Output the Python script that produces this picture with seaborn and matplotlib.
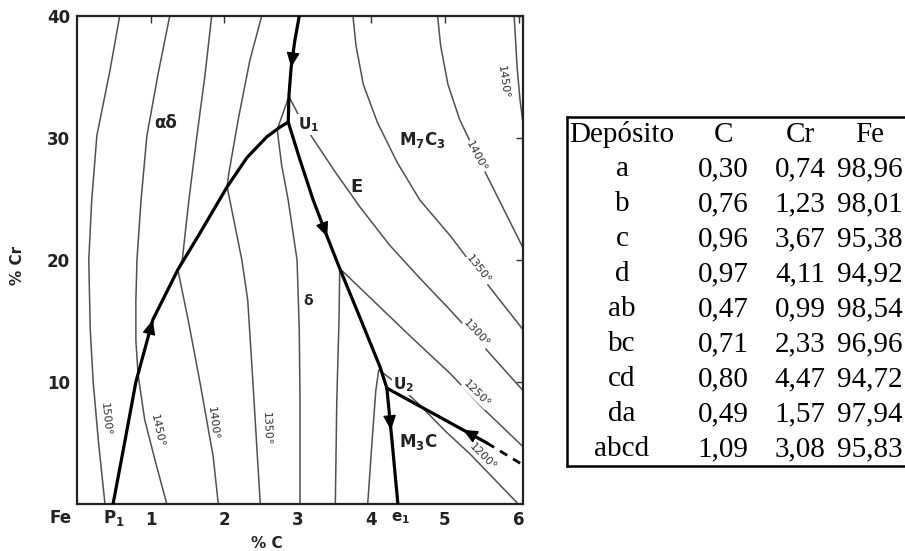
import matplotlib
matplotlib.use("Agg")
import matplotlib.pyplot as plt
import seaborn as sns

# ---------------- data : liquidus projection Fe-Cr-C (%C, %Cr) ----------------
# thin isotherms
iso1500_c = [0.58, 0.45, 0.27, 0.20, 0.16, 0.18, 0.22, 0.29, 0.38]
iso1500_cr = [40.0, 35.6, 30.2, 24.9, 20.0, 14.3, 10.0, 5.2, 0.0]
iso1450_c = [1.26, 1.10, 0.95, 0.87, 0.815, 0.80, 0.80, 0.83, 0.92, 1.06, 1.22]
iso1450_cr = [40.0, 35.2, 30.2, 24.9, 20.0, 16.7, 13.4, 10.6, 6.9, 3.6, 0.0]
iso1400_c = [1.83, 1.74, 1.63, 1.52, 1.43, 1.37, 1.51, 1.67, 1.85, 1.92]
iso1400_cr = [40.0, 35.2, 30.2, 24.9, 20.0, 19.2, 15.1, 10.0, 3.9, 0.0]
iso1350a_c = [2.51, 2.35, 2.19, 2.06, 2.04, 2.13, 2.24, 2.32, 2.39, 2.49]
iso1350a_cr = [40.0, 36.4, 31.5, 27.0, 26.0, 23.3, 20.0, 16.7, 10.0, 0.0]
iso1300_c = [3.03, 3.03, 3.02, 2.99, 2.87, 2.78, 2.72, 2.88, 3.00, 3.19, 3.51,
             3.85, 4.25, 4.66, 5.07, 5.54, 6.06]
iso1300_cr = [0.0, 8.5, 14.3, 20.0, 24.9, 27.8, 30.7, 33.4, 32.0, 30.1, 27.2,
              24.3, 21.2, 18.5, 15.9, 12.8, 9.3]
iso1250_c = [3.51, 3.53, 3.56, 3.57, 4.02, 4.52, 5.07, 5.54, 6.06]
iso1250_cr = [0.0, 8.5, 15.1, 19.3, 16.7, 13.8, 10.7, 7.7, 4.7]
iso1200_c = [3.95, 4.01, 4.06, 4.10, 4.32, 4.66, 5.00, 5.34, 5.98]
iso1200_cr = [0.0, 5.2, 9.3, 11.0, 10.0, 8.1, 6.0, 4.1, 0.1]
iso1350b_c = [3.75, 3.79, 3.89, 4.08, 4.35, 4.66, 5.07, 5.41, 5.72, 6.06]
iso1350b_cr = [40.0, 37.6, 34.4, 31.3, 28.0, 24.9, 22.0, 19.3, 16.9, 14.3]
iso1400b_c = [4.90, 4.94, 5.04, 5.20, 5.43, 5.72, 6.06]
iso1400b_cr = [40.0, 37.6, 34.4, 31.5, 28.6, 25.1, 21.0]
iso1450b_c = [5.94, 5.98, 6.02, 6.06]
iso1450b_cr = [40.0, 35.8, 33.1, 31.2]

# thick monovariant lines
p1_u1_c = [0.49, 0.64, 0.80, 1.03, 1.37, 1.67, 2.04, 2.31, 2.58, 2.76, 2.87]
p1_u1_cr = [0.0, 4.8, 10.0, 15.1, 19.2, 22.2, 26.0, 28.4, 30.1, 30.9, 31.3]
top_u1_c = [3.02, 2.96, 2.91, 2.88, 2.87]
top_u1_cr = [40.0, 38.0, 35.8, 33.5, 31.3]
u1_u2_c = [2.87, 3.03, 3.21, 3.40, 3.57, 3.85, 4.12, 4.21]
u1_u2_cr = [31.3, 28.2, 24.9, 21.9, 19.3, 15.2, 11.2, 9.5]
u2_e1_c = [4.21, 4.28, 4.36]
u2_e1_cr = [9.5, 5.2, 0.0]
u2_right_c = [4.21, 5.57]
u2_right_cr = [9.5, 5.0]
u2_dash_c = [5.57, 6.06]
u2_dash_cr = [5.0, 3.2]

x_ticks = [1, 2, 3, 4, 5, 6]
x_tick_labels = ["1", "2", "3", "4", "5", "6"]
y_ticks = [10, 20, 30, 40]
y_tick_labels = ["10", "20", "30", "40"]

# table
depositos = ["a", "b", "c", "d", "ab", "bc", "cd", "da", "abcd"]
c_vals = [0.30, 0.76, 0.96, 0.97, 0.47, 0.71, 0.80, 0.49, 1.09]
cr_vals = [0.74, 1.23, 3.67, 4.11, 0.99, 2.33, 4.47, 1.57, 3.08]
fe_vals = [98.96, 98.01, 95.38, 94.92, 98.54, 96.96, 94.72, 97.94, 95.83]
headers = ["Depósito", "C", "Cr", "Fe"]

# ---------------- style ----------------
sns.set_theme(style="white")
plt.rcParams["font.family"] = ["DejaVu Sans"]

W, H = 905, 551
fig = plt.figure(figsize=(W / 100, H / 100), dpi=100)
fig.patch.set_facecolor("white")
ax = fig.add_axes([77 / W, 47 / H, 446 / W, 488 / H])
ax.set_facecolor("white")

THIN = dict(color="#505050", linewidth=1.1, zorder=2)
THICK = dict(color="black", linewidth=2.3, zorder=4)


def draw(c, cr, **kw):
    sns.lineplot(x=c, y=cr, ax=ax, sort=False, estimator=None, legend=False, **kw)


for c, cr in [(iso1500_c, iso1500_cr), (iso1450_c, iso1450_cr), (iso1400_c, iso1400_cr),
              (iso1350a_c, iso1350a_cr), (iso1300_c, iso1300_cr), (iso1250_c, iso1250_cr),
              (iso1200_c, iso1200_cr), (iso1350b_c, iso1350b_cr), (iso1400b_c, iso1400b_cr),
              (iso1450b_c, iso1450b_cr)]:
    draw(c, cr, **THIN)

for c, cr in [(p1_u1_c, p1_u1_cr), (top_u1_c, top_u1_cr), (u1_u2_c, u1_u2_cr),
              (u2_e1_c, u2_e1_cr), (u2_right_c, u2_right_cr)]:
    draw(c, cr, **THICK)
draw(u2_dash_c, u2_dash_cr, color="black", linewidth=2.0, linestyle=(0, (3, 2.5)), zorder=4)


def arrow_on(c, cr, i, t, forward=True):
    x0, y0, x1, y1 = c[i], cr[i], c[i + 1], cr[i + 1]
    hx, hy = x0 + t * (x1 - x0), y0 + t * (y1 - y0)
    s = 1 if forward else -1
    tx, ty = hx - s * 0.02 * (x1 - x0), hy - s * 0.02 * (y1 - y0)
    ax.annotate("", xy=(hx, hy), xytext=(tx, ty), zorder=6,
                arrowprops=dict(arrowstyle="-|>,head_length=0.9,head_width=0.4",
                                color="black", lw=1.0, shrinkA=0, shrinkB=0,
                                mutation_scale=10))


arrow_on(p1_u1_c, p1_u1_cr, 2, 1.0, True)
arrow_on(top_u1_c, top_u1_cr, 1, 1.0, True)
arrow_on(u1_u2_c, u1_u2_cr, 2, 1.0, True)
arrow_on(u2_e1_c, u2_e1_cr, 0, 0.8, True)
arrow_on(u2_right_c, u2_right_cr, 0, 0.76, False)

ax.set_xlim(0, 6.06)
ax.set_ylim(0, 40)
ax.set_xticks(x_ticks)
ax.set_xticklabels(x_tick_labels)
ax.set_yticks(y_ticks)
ax.set_yticklabels(y_tick_labels)
ax.set_xlabel("")
ax.set_ylabel("")
ax.tick_params(direction="in", length=5, width=1.0, color="#333333",
               top=True, right=True, labeltop=False, labelright=False,
               labelsize=12, pad=5)
for lab in ax.get_xticklabels() + ax.get_yticklabels():
    lab.set_fontweight("bold")
    lab.set_color("#222222")
for sp in ax.spines.values():
    sp.set_color("#222222")
    sp.set_linewidth(1.6)
    sp.set_visible(True)

lbl = dict(fontweight="bold", color="#222222", ha="center", va="center")
xt = ax.get_xaxis_transform()
ax.text(-0.23, -0.028, "Fe", transform=xt, fontsize=12, clip_on=False, **lbl)
ax.text(0.50, -0.028, "P$_\\mathbf{1}$", transform=xt, fontsize=12, clip_on=False, **lbl)
ax.text(4.40, -0.028, "e$_\\mathbf{1}$", transform=xt, fontsize=11, clip_on=False, **lbl)
fig.text(267 / W, 1 - 543 / H, "% C", fontsize=11, **lbl)
fig.text(17 / W, 1 - 265 / H, "% Cr", fontsize=11, rotation=90, **lbl)

# region labels
white = dict(facecolor="white", edgecolor="none", pad=0.6)
ax.text(1.20, 31.2, "αδ", fontsize=12, zorder=5, **lbl)
ax.text(3.14, 31.1, "U$_\\mathbf{1}$", fontsize=11, zorder=3, bbox=white, **lbl)
ax.text(4.70, 29.8, "M$_\\mathbf{7}$C$_\\mathbf{3}$", fontsize=12, zorder=3, bbox=white, **lbl)
ax.text(3.80, 26.0, "E", fontsize=13, zorder=5, **lbl)
ax.text(3.14, 16.6, "δ", fontsize=10, zorder=5, **lbl)
ax.text(4.44, 9.75, "U$_\\mathbf{2}$", fontsize=11, zorder=3, bbox=white, **lbl)
ax.text(4.64, 5.1, "M$_\\mathbf{3}$C", fontsize=12, zorder=5, **lbl)

# isotherm labels
iso = dict(fontsize=8, color="#333333", ha="center", va="center", rotation_mode="anchor")
for x, y, s, r in [(0.39, 6.9, "1500°", -84), (1.09, 6.0, "1450°", -78),
                   (1.85, 6.6, "1400°", -83), (2.58, 6.2, "1350°", -88)]:
    ax.text(x, y, s, rotation=r, zorder=5, **iso)
for x, y, s, r in [(5.79, 34.6, "1450°", -82), (5.43, 28.5, "1400°", -62),
                   (5.45, 19.2, "1350°", -52), (5.43, 14.0, "1300°", -47),
                   (5.43, 9.0, "1250°", -45), (5.52, 3.9, "1200°", -45)]:
    ax.text(x, y, s, rotation=r, zorder=3, bbox=dict(facecolor="white", edgecolor="none", pad=0.3), **iso)

# ---------------- table ----------------
tl, tr, tt, tb = 567, 905, 117, 466
tax = fig.add_axes([tl / W, 1 - tb / H, (tr - tl) / W, (tb - tt) / H])
tax.set_xlim(tl, tr)
tax.set_ylim(tb, tt)
tax.set_xticks([])
tax.set_yticks([])
tax.set_facecolor("white")
for k, sp in tax.spines.items():
    sp.set_visible(k != "right")
    sp.set_color("black")
    sp.set_linewidth(1.8)

col_x = [622, 723, 800, 870]
tfont = dict(fontsize=21, family="Liberation Serif", color="black", ha="center", va="center")
for cx, h in zip(col_x, headers):
    tax.text(cx, 135, h, **tfont)


def fmt(v):
    return f"{v:.2f}".replace(".", ",")


for i, (d, cv, crv, fv) in enumerate(zip(depositos, c_vals, cr_vals, fe_vals)):
    y = 169 + 35 * i
    for cx, s in zip(col_x, [d, fmt(cv), fmt(crv), fmt(fv)]):
        tax.text(cx, y, s, **tfont)

fig.savefig("out.png", dpi=100, facecolor="white")
